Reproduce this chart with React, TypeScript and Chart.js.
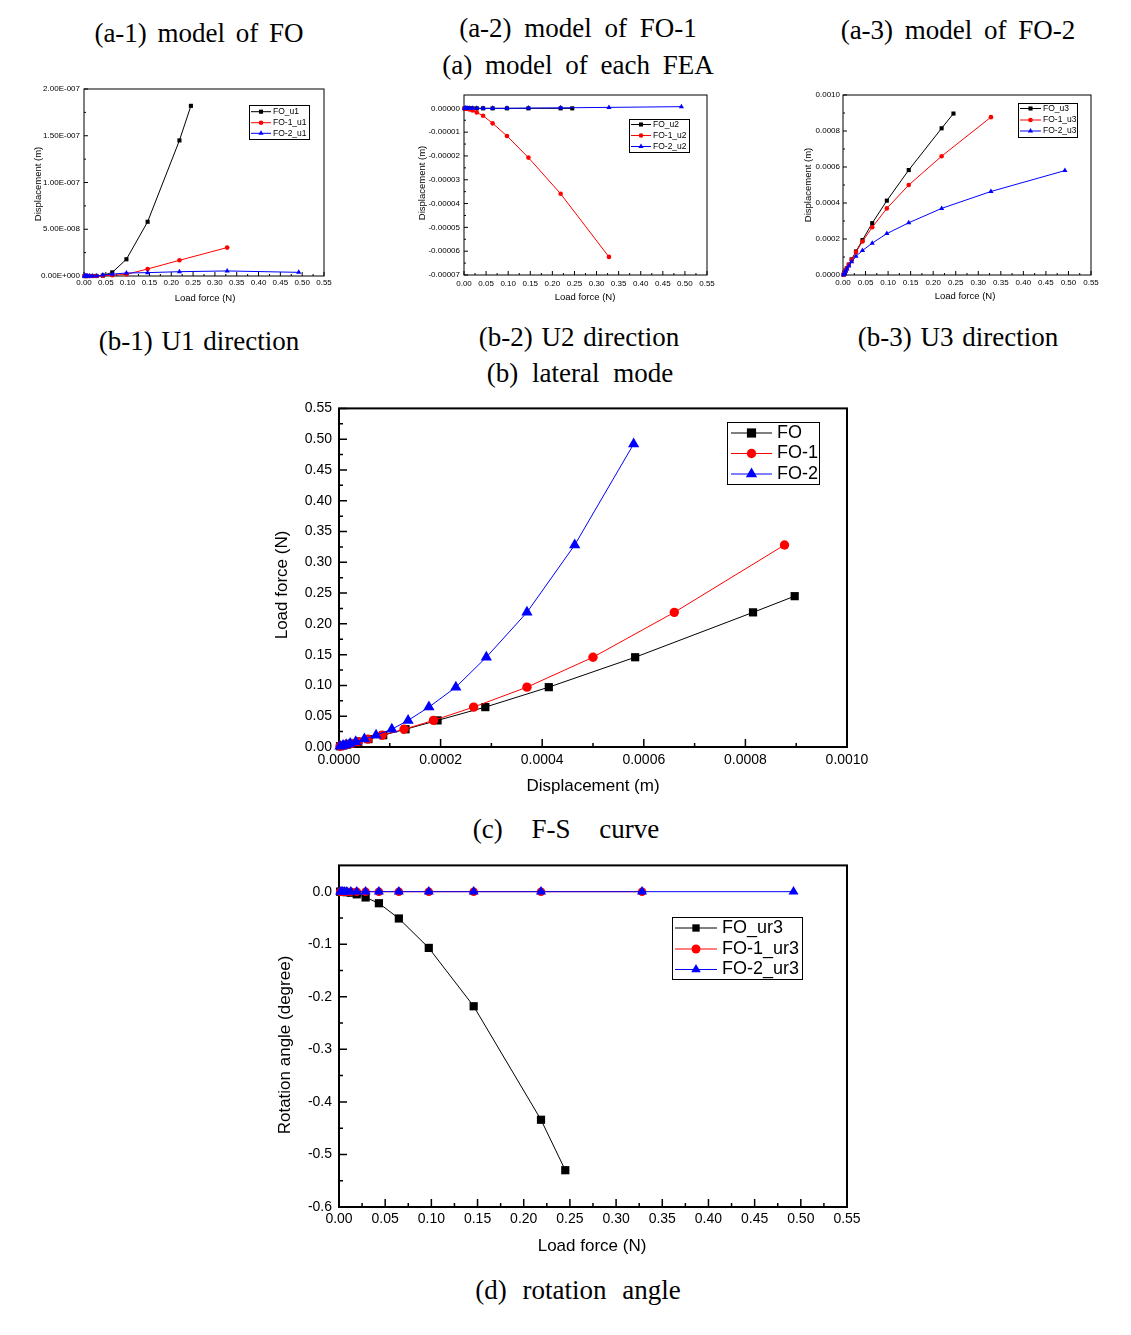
import React, { useEffect, useRef } from "react";
import { Chart, registerables } from "chart.js";
Chart.register(...registerables);

const SANS = "'Liberation Sans', Arial, Helvetica, sans-serif";
const NARROW = "'Liberation Sans Narrow', 'Liberation Sans', Arial, sans-serif";
const SERIF = "'Liberation Serif', 'DejaVu Serif', serif";

// ---------------- data ----------------
// load force steps (N)
const loadSteps = [0.0012, 0.0025, 0.0038, 0.0057, 0.0085, 0.0128, 0.0192, 0.0288, 0.0432, 0.0648, 0.0972, 0.1458, 0.2187];
const loadFO = [...loadSteps, 0.245];
const loadFO1 = [...loadSteps, 0.3281];
const loadFO2 = [...loadSteps, 0.3281, 0.4921];

// U1 displacement (m)
const u1FO = [0, 0, 0, 0, 0, 0, 0, 0.1e-9, 0.5e-9, 3.9e-9, 17.9e-9, 58e-9, 145e-9, 182e-9];
const u1FO1 = [0, 0, 0, 0, 0, 0, 0, 0, 0.3e-9, 0.8e-9, 1.8e-9, 7.5e-9, 16.8e-9, 30.4e-9];
const u1FO2 = [0, 0, 0, 0, 0, 0, 0, 0, 1.0e-9, 2.0e-9, 3.2e-9, 3.6e-9, 4.6e-9, 5.4e-9, 3.9e-9];

// U2 displacement (m)
const u2FO = [0, 0, 0, 0, 0, 0, 0, 0, 0, 0, 0, 0, 0, 0];
const u2FO1 = [0, -0.05e-6, -0.1e-6, -0.2e-6, -0.3e-6, -0.5e-6, -0.9e-6, -1.7e-6, -3.1e-6, -6.3e-6, -11.6e-6, -20.7e-6, -35.9e-6, -62.4e-6];
const u2FO2 = [0, 0, 0, 0, 0, 0, 0, 0, 0, 0, 0, 0.1e-6, 0.2e-6, 0.4e-6, 0.7e-6];

// U3 displacement (m)
const u3FO = [0.000002, 0.000008, 0.000015, 0.000025, 0.000038, 0.000058, 0.000087, 0.000131, 0.000194, 0.000288, 0.000413, 0.000583, 0.000815, 0.000897];
const u3FO1 = [0.000002, 0.000008, 0.000015, 0.000025, 0.000038, 0.000057, 0.000085, 0.000128, 0.000186, 0.000265, 0.00037, 0.0005, 0.00066, 0.000877];
const u3FO2 = [0.000002, 0.000008, 0.000014, 0.000022, 0.000033, 0.00005, 0.000073, 0.000104, 0.000136, 0.000177, 0.00023, 0.00029, 0.00037, 0.000464, 0.00058];

// UR3 rotation angle (degree)
const ur3FO = [0, 0, 0, -0.0005, -0.001, -0.002, -0.005, -0.011, -0.022, -0.051, -0.107, -0.218, -0.434, -0.53];
const ur3FO1 = [0, 0, 0, 0, 0, 0, 0, 0, 0, 0, 0, 0, 0, 0];
const ur3FO2 = [0, 0, 0, 0, 0, 0, 0, 0, 0, 0, 0, 0, 0, 0, 0];

// tick values
const loadTicks = [0, 0.05, 0.1, 0.15, 0.2, 0.25, 0.3, 0.35, 0.4, 0.45, 0.5, 0.55];
const u1Ticks = [0, 5e-8, 1e-7, 1.5e-7, 2e-7];
const u2Ticks = [-7e-5, -6e-5, -5e-5, -4e-5, -3e-5, -2e-5, -1e-5, 0];
const u3Ticks = [0, 0.0002, 0.0004, 0.0006, 0.0008, 0.001];
const dispTicks = [0, 0.0002, 0.0004, 0.0006, 0.0008, 0.001];
const angleTicks = [-0.6, -0.5, -0.4, -0.3, -0.2, -0.1, 0];

// ---------------- helpers ----------------
const BLACK = "#000000";
const RED = "#ff0000";
const BLUE = "#0000ff";

type Box = { l: number; t: number; r: number; b: number };
type Series = { label: string; xs: number[]; ys: number[]; color: string; style: "rect" | "circle" | "triangle"; r: number; lr: number };
type Spec = {
  canvas: Box;
  frame: Box;
  xRange: [number, number];
  yRange: [number, number];
  xTicks: number[];
  yTicks: number[];
  xFmt: (v: number) => string;
  yFmt: (v: number) => string;
  tickFont: { family: string; size: number };
  xPad: number;
  yPad: number;
  frameW: number;
  majorLen: number;
  minorLen: number;
  tickW: number;
  lineW: number;
  series: Series[];
  legend: { box: Box; rows: number[]; x0: number; x1: number; tx: number; font: string };
  xTitle: { text: string; x: number; y: number; font: string };
  yTitle: { text: string; x: number; y: number; font: string };
};

const mids = (t: number[]) => t.slice(1).map((v, i) => (v + t[i]) / 2);
const pts = (xs: number[], ys: number[]) => xs.map((x, i) => ({ x, y: ys[i] }));
const expFmt = (v: number) => {
  const [m, e] = v.toExponential(2).split("e");
  const n = parseInt(e, 10);
  return `${m}E${n < 0 ? "-" : "+"}${String(Math.abs(n)).padStart(3, "0")}`;
};

function drawMarker(ctx: CanvasRenderingContext2D, style: string, x: number, y: number, r: number, color: string) {
  ctx.fillStyle = color;
  ctx.beginPath();
  if (style === "rect") {
    const s = r * Math.SQRT1_2;
    ctx.rect(x - s, y - s, 2 * s, 2 * s);
  } else if (style === "circle") {
    ctx.arc(x, y, r, 0, Math.PI * 2);
  } else {
    ctx.moveTo(x, y - r);
    ctx.lineTo(x + r * 0.866, y + r * 0.5);
    ctx.lineTo(x - r * 0.866, y + r * 0.5);
    ctx.closePath();
  }
  ctx.fill();
}

function makePlugin(s: Spec, id: string) {
  const cl = s.canvas.l;
  const ct = s.canvas.t;
  return {
    id,
    beforeDatasetsDraw(chart: any) {
      const ctx: CanvasRenderingContext2D = chart.ctx;
      const a = chart.chartArea;
      const xs = chart.scales.x;
      const ys = chart.scales.y;
      ctx.save();
      ctx.strokeStyle = "#000";
      ctx.lineWidth = s.tickW;
      ctx.beginPath();
      const tickX = (vals: number[], len: number) => {
        vals.forEach((v) => {
          const p = xs.getPixelForValue(v);
          ctx.moveTo(p, a.bottom);
          ctx.lineTo(p, a.bottom - len);
        });
      };
      const tickY = (vals: number[], len: number) => {
        vals.forEach((v) => {
          const p = ys.getPixelForValue(v);
          ctx.moveTo(a.left, p);
          ctx.lineTo(a.left + len, p);
        });
      };
      tickX(s.xTicks, s.majorLen);
      tickX(mids(s.xTicks), s.minorLen);
      tickY(s.yTicks, s.majorLen);
      tickY(mids(s.yTicks), s.minorLen);
      ctx.stroke();
      ctx.lineWidth = s.frameW;
      ctx.strokeRect(a.left, a.top, a.right - a.left, a.bottom - a.top);
      ctx.restore();
    },
    afterDraw(chart: any) {
      const ctx: CanvasRenderingContext2D = chart.ctx;
      ctx.save();
      // legend
      const lg = s.legend;
      ctx.strokeStyle = "#000";
      ctx.lineWidth = 1;
      ctx.strokeRect(lg.box.l - cl + 0.5, lg.box.t - ct + 0.5, lg.box.r - lg.box.l, lg.box.b - lg.box.t);
      ctx.font = lg.font;
      ctx.textAlign = "left";
      ctx.textBaseline = "middle";
      s.series.forEach((se, i) => {
        const y = lg.rows[i] - ct;
        ctx.strokeStyle = se.color;
        ctx.lineWidth = s.lineW;
        ctx.beginPath();
        ctx.moveTo(lg.x0 - cl, y);
        ctx.lineTo(lg.x1 - cl, y);
        ctx.stroke();
        drawMarker(ctx, se.style, (lg.x0 + lg.x1) / 2 - cl, y, se.lr, se.color);
        ctx.fillStyle = "#000";
        ctx.fillText(se.label, lg.tx - cl, y);
      });
      // axis titles
      ctx.fillStyle = "#000";
      ctx.textAlign = "center";
      ctx.textBaseline = "middle";
      ctx.font = s.xTitle.font;
      ctx.fillText(s.xTitle.text, s.xTitle.x - cl, s.xTitle.y - ct);
      ctx.font = s.yTitle.font;
      ctx.translate(s.yTitle.x - cl, s.yTitle.y - ct);
      ctx.rotate(-Math.PI / 2);
      ctx.fillText(s.yTitle.text, 0, 0);
      ctx.restore();
    },
  };
}

function buildChart(canvas: HTMLCanvasElement, s: Spec, id: string) {
  const W = s.canvas.r - s.canvas.l;
  const H = s.canvas.b - s.canvas.t;
  const L = s.frame.l - s.canvas.l;
  const T = s.frame.t - s.canvas.t;
  const R = s.canvas.r - s.frame.r;
  const B = s.canvas.b - s.frame.b;
  canvas.width = W;
  canvas.height = H;
  canvas.style.width = W + "px";
  canvas.style.height = H + "px";
  const n = s.series.length;
  const datasets = s.series.map((se, i) => ({
    label: se.label,
    data: pts(se.xs, se.ys),
    borderColor: se.color,
    backgroundColor: se.color,
    pointBackgroundColor: se.color,
    pointBorderColor: se.color,
    pointBorderWidth: 0,
    pointStyle: se.style,
    pointRadius: se.r,
    borderWidth: s.lineW,
    tension: 0,
    clip: false,
    order: n - 1 - i,
    showLine: true,
  }));
  const axis = (range: [number, number], ticks: number[], fmt: (v: number) => string, pad: number, fit: (sc: any) => void) => ({
    type: "linear",
    min: range[0],
    max: range[1],
    bounds: "data",
    grid: { display: false, drawTicks: false },
    border: { display: false },
    ticks: {
      autoSkip: false,
      maxRotation: 0,
      minRotation: 0,
      padding: pad,
      color: "#000",
      font: s.tickFont,
      callback: (v: any) => fmt(Number(v)),
    },
    afterBuildTicks: (sc: any) => {
      sc.ticks = ticks.map((v) => ({ value: v }));
    },
    afterFit: fit,
  });
  return new Chart(canvas, {
    type: "line",
    data: { datasets } as any,
    options: {
      responsive: false,
      maintainAspectRatio: false,
      animation: false,
      events: [],
      layout: { padding: { top: T, right: R, left: 0, bottom: 0 }, autoPadding: false } as any,
      plugins: { legend: { display: false }, tooltip: { enabled: false }, title: { display: false } },
      scales: {
        x: axis(s.xRange, s.xTicks, s.xFmt, s.xPad, (sc: any) => { sc.height = B; }),
        y: axis(s.yRange, s.yTicks, s.yFmt, s.yPad, (sc: any) => { sc.width = L; }),
      } as any,
    },
    plugins: [makePlugin(s, id)],
  } as any);
}

const f2 = (v: number) => v.toFixed(2);
const smallTick = { family: NARROW, size: 8 };
const bigTick = { family: SANS, size: 14 };
const smallLegendFont = `8.5px ${SANS}`;
const smallTitleFont = `9.5px ${SANS}`;

const specs: Spec[] = [
  {
    canvas: { l: 20, t: 80, r: 340, b: 310 },
    frame: { l: 84, t: 89, r: 324, b: 276 },
    xRange: [0, 0.55],
    yRange: [0, 2e-7],
    xTicks: loadTicks,
    yTicks: u1Ticks,
    xFmt: f2,
    yFmt: expFmt,
    tickFont: smallTick,
    xPad: 1.5,
    yPad: 4,
    frameW: 1,
    majorLen: 4,
    minorLen: 2,
    tickW: 1,
    lineW: 1,
    series: [
      { label: "FO_u1", xs: loadFO, ys: u1FO, color: BLACK, style: "rect", r: 2.9, lr: 2.9 },
      { label: "FO-1_u1", xs: loadFO1, ys: u1FO1, color: RED, style: "circle", r: 2.3, lr: 2.3 },
      { label: "FO-2_u1", xs: loadFO2, ys: u1FO2, color: BLUE, style: "triangle", r: 3, lr: 3 },
    ],
    legend: { box: { l: 249, t: 105, r: 309, b: 139 }, rows: [111.7, 122.7, 133.3], x0: 251, x1: 271, tx: 273, font: smallLegendFont },
    xTitle: { text: "Load force (N)", x: 205, y: 298, font: smallTitleFont },
    yTitle: { text: "Displacement (m)", x: 38, y: 184, font: smallTitleFont },
  },
  {
    canvas: { l: 400, t: 85, r: 730, b: 310 },
    frame: { l: 464, t: 95, r: 707, b: 275 },
    xRange: [0, 0.55],
    yRange: [-7e-5, 0.56e-5],
    xTicks: loadTicks,
    yTicks: u2Ticks,
    xFmt: f2,
    yFmt: (v) => v.toFixed(5),
    tickFont: smallTick,
    xPad: 3.5,
    yPad: 4,
    frameW: 1,
    majorLen: 4,
    minorLen: 2,
    tickW: 1,
    lineW: 1,
    series: [
      { label: "FO_u2", xs: loadFO, ys: u2FO, color: BLACK, style: "rect", r: 2.9, lr: 2.9 },
      { label: "FO-1_u2", xs: loadFO1, ys: u2FO1, color: RED, style: "circle", r: 2.3, lr: 2.3 },
      { label: "FO-2_u2", xs: loadFO2, ys: u2FO2, color: BLUE, style: "triangle", r: 3, lr: 3 },
    ],
    legend: { box: { l: 629, t: 119, r: 689, b: 152 }, rows: [124.5, 135.5, 146.5], x0: 631, x1: 651, tx: 653, font: smallLegendFont },
    xTitle: { text: "Load force (N)", x: 585, y: 297, font: smallTitleFont },
    yTitle: { text: "Displacement (m)", x: 422, y: 183, font: smallTitleFont },
  },
  {
    canvas: { l: 790, t: 85, r: 1125, b: 310 },
    frame: { l: 843, t: 95, r: 1091, b: 275 },
    xRange: [0, 0.55],
    yRange: [0, 0.001],
    xTicks: loadTicks,
    yTicks: u3Ticks,
    xFmt: f2,
    yFmt: (v) => v.toFixed(4),
    tickFont: smallTick,
    xPad: 2.5,
    yPad: 3,
    frameW: 1,
    majorLen: 4,
    minorLen: 2,
    tickW: 1,
    lineW: 1,
    series: [
      { label: "FO_u3", xs: loadFO, ys: u3FO, color: BLACK, style: "rect", r: 2.9, lr: 2.9 },
      { label: "FO-1_u3", xs: loadFO1, ys: u3FO1, color: RED, style: "circle", r: 2.3, lr: 2.3 },
      { label: "FO-2_u3", xs: loadFO2, ys: u3FO2, color: BLUE, style: "triangle", r: 3, lr: 3 },
    ],
    legend: { box: { l: 1018, t: 103, r: 1077, b: 137 }, rows: [108.5, 120, 131], x0: 1020, x1: 1041, tx: 1043, font: smallLegendFont },
    xTitle: { text: "Load force (N)", x: 965, y: 296, font: smallTitleFont },
    yTitle: { text: "Displacement (m)", x: 808, y: 185, font: smallTitleFont },
  },
  {
    canvas: { l: 260, t: 393, r: 880, b: 800 },
    frame: { l: 339, t: 405, r: 847, b: 747 },
    xRange: [0, 0.001],
    yRange: [0, 0.55],
    xTicks: dispTicks,
    yTicks: loadTicks,
    xFmt: (v) => v.toFixed(4),
    yFmt: f2,
    tickFont: bigTick,
    xPad: 4.5,
    yPad: 7,
    frameW: 2,
    majorLen: 8,
    minorLen: 4,
    tickW: 1.5,
    lineW: 1,
    series: [
      { label: "FO", xs: u3FO, ys: loadFO, color: BLACK, style: "rect", r: 5.8, lr: 6.5 },
      { label: "FO-1", xs: u3FO1, ys: loadFO1, color: RED, style: "circle", r: 4.7, lr: 4.7 },
      { label: "FO-2", xs: u3FO2, ys: loadFO2, color: BLUE, style: "triangle", r: 6.5, lr: 6.5 },
    ],
    legend: { box: { l: 727, t: 422, r: 819, b: 484 }, rows: [433, 453.5, 474], x0: 731, x1: 772, tx: 777, font: `18px ${SANS}` },
    xTitle: { text: "Displacement (m)", x: 593, y: 786, font: `17px ${SANS}` },
    yTitle: { text: "Load force (N)", x: 282, y: 585, font: `17px ${SANS}` },
  },
  {
    canvas: { l: 260, t: 850, r: 880, b: 1260 },
    frame: { l: 339, t: 864, r: 847, b: 1207 },
    xRange: [0, 0.55],
    yRange: [-0.6, 0.05],
    xTicks: loadTicks,
    yTicks: angleTicks,
    xFmt: f2,
    yFmt: (v) => v.toFixed(1),
    tickFont: bigTick,
    xPad: 3.5,
    yPad: 7,
    frameW: 2,
    majorLen: 8,
    minorLen: 4,
    tickW: 1.5,
    lineW: 1,
    series: [
      { label: "FO_ur3", xs: loadFO, ys: ur3FO, color: BLACK, style: "rect", r: 5.8, lr: 5.2 },
      { label: "FO-1_ur3", xs: loadFO1, ys: ur3FO1, color: RED, style: "circle", r: 4.3, lr: 4.5 },
      { label: "FO-2_ur3", xs: loadFO2, ys: ur3FO2, color: BLUE, style: "triangle", r: 5.8, lr: 5.5 },
    ],
    legend: { box: { l: 672, t: 917, r: 802, b: 979 }, rows: [928, 949, 969.5], x0: 675, x1: 717, tx: 722, font: `18px ${SANS}` },
    xTitle: { text: "Load force (N)", x: 592, y: 1246, font: `17px ${SANS}` },
    yTitle: { text: "Rotation angle (degree)", x: 285, y: 1045, font: `17px ${SANS}` },
  },
];

const captions = [
  { text: "(a-1) model of FO", x: 199, y: 33, ws: 4 },
  { text: "(a-2) model of FO-1", x: 578, y: 28, ws: 6 },
  { text: "(a-3) model of FO-2", x: 958, y: 30, ws: 5 },
  { text: "(a) model of each FEA", x: 578, y: 65, ws: 6 },
  { text: "(b-1) U1 direction", x: 199, y: 341, ws: 2 },
  { text: "(b-2) U2 direction", x: 579, y: 337, ws: 2 },
  { text: "(b-3) U3 direction", x: 958, y: 337, ws: 2 },
  { text: "(b) lateral mode", x: 580, y: 373, ws: 7 },
  { text: "(c) F-S curve", x: 566, y: 829, ws: 22 },
  { text: "(d) rotation angle", x: 578, y: 1290, ws: 9 },
];

export default function App() {
  const refs = useRef<(HTMLCanvasElement | null)[]>([]);
  useEffect(() => {
    const charts = specs.map((s, i) => buildChart(refs.current[i] as HTMLCanvasElement, s, "originFrame" + i));
    return () => charts.forEach((c) => c.destroy());
  }, []);
  return (
    <div style={{ position: "absolute", left: 0, top: 0, width: 1131, height: 1335, background: "#fff", overflow: "hidden" }}>
      {captions.map((c, i) => (
        <div
          key={"cap" + i}
          style={{
            position: "absolute",
            left: c.x,
            top: c.y,
            transform: "translate(-50%, -50%)",
            fontFamily: SERIF,
            fontSize: 27,
            lineHeight: 1,
            whiteSpace: "nowrap",
            wordSpacing: c.ws,
            color: "#000",
          }}
        >
          {c.text}
        </div>
      ))}
      {specs.map((s, i) => (
        <canvas
          key={"cv" + i}
          ref={(el) => {
            refs.current[i] = el;
          }}
          style={{ position: "absolute", left: s.canvas.l, top: s.canvas.t }}
        />
      ))}
    </div>
  );
}
